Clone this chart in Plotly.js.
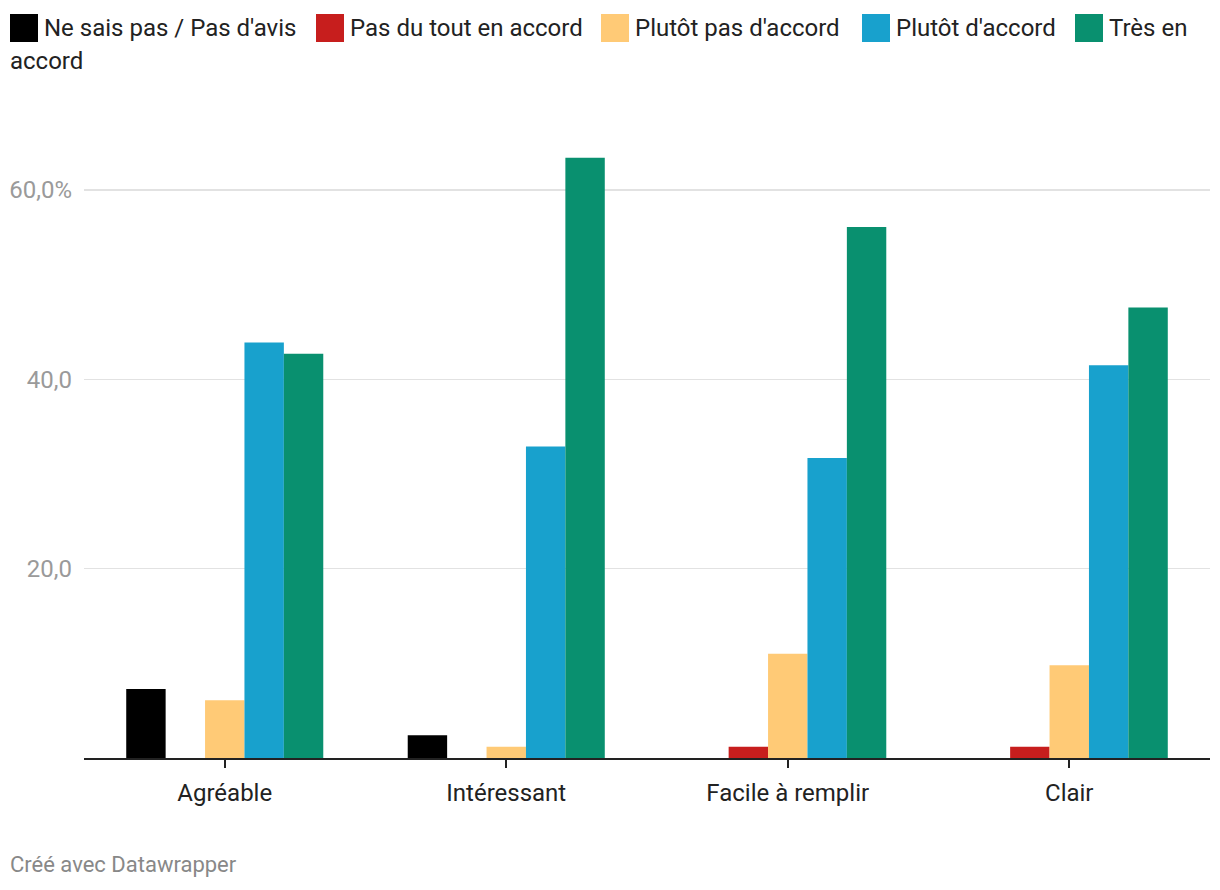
<!DOCTYPE html>
<html>
<head>
<meta charset="utf-8">
<script src="https://cdn.plot.ly/plotly-3.0.1.min.js"></script>
<style>html,body{margin:0;padding:0;background:#fff;}#chart{width:1220px;height:890px;}</style>
</head>
<body>
<div id="chart"></div>
<script>
const categories = ["Agréable", "Intéressant", "Facile à remplir", "Clair"];
const seriesNames = ["Ne sais pas / Pas d'avis", "Pas du tout en accord", "Plutôt pas d'accord", "Plutôt d'accord", "Très en accord"];
const neSaisPas = [7.3, 2.4, 0, 0];
const pasDuTout = [0, 0, 1.2, 1.2];
const plutotPas = [6.1, 1.2, 11.0, 9.8];
const plutotAccord = [43.9, 32.9, 31.7, 41.5];
const tresAccord = [42.7, 63.4, 56.1, 47.6];
const tickValues = [20, 40, 60];
const tickLabels = ["20,0", "40,0", "60,0%"];
const colors = ["#000000", "#c71e1d", "#ffca76", "#18a1cd", "#09906f"];

const seriesValues = [neSaisPas, pasDuTout, plutotPas, plutotAccord, tresAccord];
const traces = seriesValues.map((vals, i) => ({
  type: "bar",
  name: seriesNames[i],
  x: categories,
  y: vals,
  marker: {color: colors[i], line: {width: 0}},
  hoverinfo: "x+y+name",
  showlegend: false
}));

const W = 1220, H = 890, L = 84, R = 10, T = 133, B = 132;
const PW = W - L - R, PH = H - T - B;
const px = v => (v - L) / PW;
const py = v => 1 - (v - T) / PH;

const font = "Roboto, 'Liberation Sans', Arial, sans-serif";
const shapes = [];
const annotations = [];
// custom legend (larger swatches, wraps like the original)
const swatchX = [10, 316, 601, 862, 1075];
const legendLines = [[seriesNames[0]], [seriesNames[1]], [seriesNames[2]], [seriesNames[3]], ["Très en", "accord"]];
swatchX.forEach((sx, i) => {
  shapes.push({type: "rect", xref: "paper", yref: "paper", x0: px(sx), x1: px(sx + 28), y0: py(14), y1: py(42), fillcolor: colors[i], line: {width: 0}});
  annotations.push({xref: "paper", yref: "paper", x: px(sx + 32), y: py(28), xanchor: "left", yanchor: "middle", text: legendLines[i][0], showarrow: false, font: {family: font, size: 24, color: "#222"}});
  if (legendLines[i][1]) {
    annotations.push({xref: "paper", yref: "paper", x: px(8), y: py(61), xanchor: "left", yanchor: "middle", text: legendLines[i][1], showarrow: false, font: {family: font, size: 24, color: "#222"}});
  }
});
annotations.push({xref: "paper", yref: "paper", x: px(8), y: py(864), xanchor: "left", yanchor: "middle", text: "Créé avec Datawrapper", showarrow: false, font: {family: font, size: 22, color: "#888"}});

const layout = {
  width: W, height: H,
  margin: {l: L, r: R, t: T, b: B, pad: 0},
  paper_bgcolor: "#fff", plot_bgcolor: "#fff",
  barmode: "group", bargap: 0.3, bargroupgap: 0,
  font: {family: font, size: 24, color: "#222"},
  xaxis: {
    range: [-0.5, 3.5], showgrid: false, zeroline: false,
    showline: true, linecolor: "#222", linewidth: 2,
    ticks: "outside", ticklen: 8, tickwidth: 2, tickcolor: "#222",
    ticklabelstandoff: 4,
    tickfont: {family: font, size: 24, color: "#222"}, fixedrange: true
  },
  yaxis: {
    range: [0, PH / 9.4667], tickvals: tickValues, ticktext: tickLabels,
    showgrid: true, gridcolor: "#e2e2e2", gridwidth: 1.5,
    zeroline: false, showline: false, ticks: "",
    ticklabelstandoff: 11,
    tickfont: {family: font, size: 24, color: "#9a9a9a"}, fixedrange: true
  },
  shapes: shapes,
  annotations: annotations
};

Plotly.newPlot("chart", traces, layout, {displayModeBar: false, staticPlot: true});
</script>
</body>
</html>
